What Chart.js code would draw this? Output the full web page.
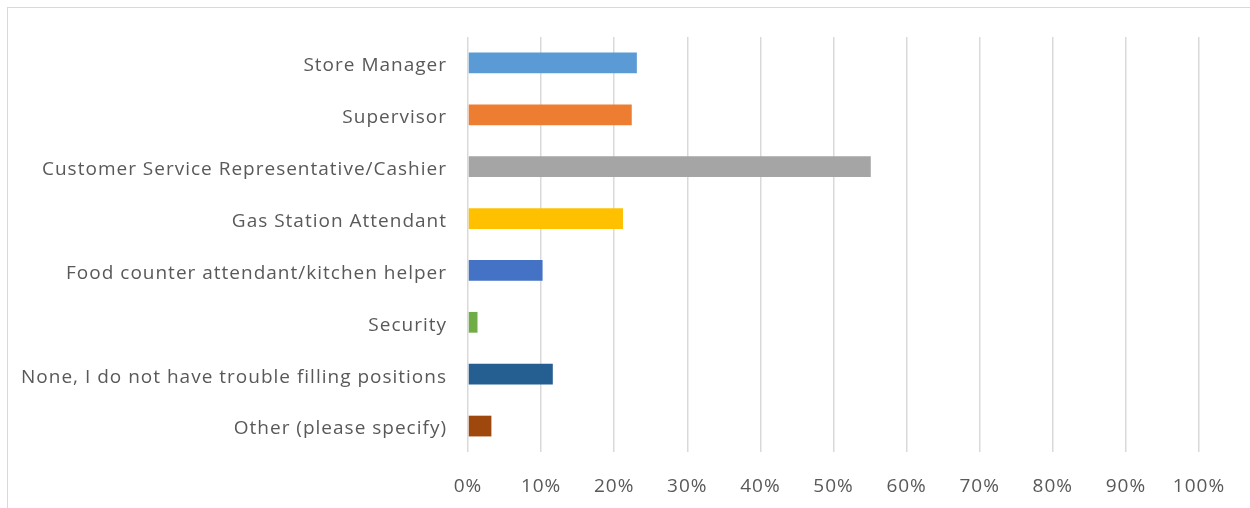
<!DOCTYPE html>
<html>
<head>
<meta charset="utf-8">
<script src="https://cdn.jsdelivr.net/npm/chart.js@4"></script>
<style>
    html, body { margin: 0; padding: 0; background: #fff; overflow: hidden; }
    #frame {
        position: absolute;
        left: 7px;
        top: 7px;
        width: 1300px;
        height: 560px;
        border: 1.5px solid #d9d9d9;
    }
    #wrap { position: absolute; left: 0; top: 0; width: 1250px; height: 508px; }
</style>
</head>
<body>
<div id="frame"></div>
<div id="wrap"><canvas id="rolesChart"></canvas></div>
<script>
const categories = [
    'Store Manager',
    'Supervisor',
    'Customer Service Representative/Cashier',
    'Gas Station Attendant',
    'Food counter attendant/kitchen helper',
    'Security',
    'None, I do not have trouble filling positions',
    'Other (please specify)'
];
const percentValues = [23.1, 22.4, 55.1, 21.2, 10.2, 1.3, 11.6, 3.2];
const barColors = ['#5b9bd5', '#ed7d31', '#a5a5a5', '#ffc000', '#4472c4', '#70ad47', '#255e91', '#9e480e'];
const tickLabels = ['0%', '10%', '20%', '30%', '40%', '50%', '60%', '70%', '80%', '90%', '100%'];

const textColor = '#595959';
const labelFont = { family: "'Open Sans', sans-serif", size: 19 };

// slightly wider letter spacing for all axis text
const spacedText = {
    id: 'spacedText',
    beforeDraw(chart) {
        chart.ctx.letterSpacing = '1px';
    }
};

const ctx = document.getElementById('rolesChart').getContext('2d');
new Chart(ctx, {
    type: 'bar',
    data: {
        labels: categories,
        datasets: [{
            data: percentValues,
            backgroundColor: barColors,
            categoryPercentage: 0.8,
            barPercentage: 0.5
        }]
    },
    options: {
        indexAxis: 'y',
        responsive: true,
        maintainAspectRatio: false,
        animation: false,
        layout: {
            padding: { top: 37, right: 51, bottom: 0, left: 0 }
        },
        plugins: {
            legend: { display: false },
            tooltip: { enabled: false }
        },
        scales: {
            x: {
                min: 0,
                max: 100,
                ticks: {
                    stepSize: 10,
                    color: textColor,
                    font: labelFont,
                    padding: 23,
                    callback: (value, i) => tickLabels[i]
                },
                grid: {
                    color: '#d9d9d9',
                    lineWidth: 1.5,
                    drawTicks: false
                },
                border: { display: false },
                afterFit: scale => { scale.height = 56; }
            },
            y: {
                ticks: {
                    color: textColor,
                    font: labelFont,
                    padding: 21,
                    labelOffset: 3,
                    autoSkip: false
                },
                grid: { display: false, drawTicks: false },
                border: { display: false },
                afterFit: scale => { scale.width = 468; }
            }
        }
    },
    plugins: [spacedText]
});
</script>
</body>
</html>
